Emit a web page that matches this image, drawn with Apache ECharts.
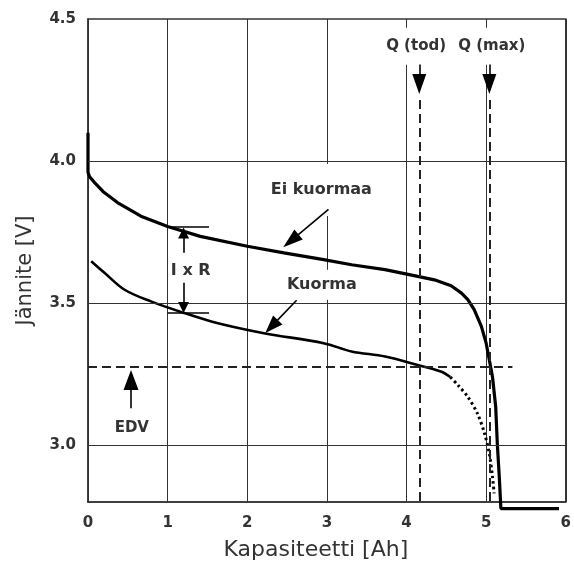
<!DOCTYPE html>
<html>
<head>
<meta charset="utf-8">
<script src="https://cdn.jsdelivr.net/npm/echarts@6/dist/echarts.min.js"></script>
<style>
  html, body { margin: 0; padding: 0; background: #fff; }
  #chart { width: 574px; height: 577px; }
</style>
</head>
<body>
<div id="chart"></div>
<script>
// purkauskäyrät, luettu kuvasta: kapasiteetti [Ah] / jännite [V]
var noLoadCap  = [0, 0, 0.02, 0.08, 0.2, 0.37, 0.665, 1.0, 1.41, 2.0, 2.46, 2.96, 3.31, 3.73, 4.14, 4.35, 4.56, 4.69, 4.77, 4.85, 4.94, 5.0, 5.04, 5.08, 5.12, 5.14, 5.165, 5.185, 5.915];
var noLoadVolt = [4.10, 3.96, 3.945, 3.925, 3.89, 3.854, 3.806, 3.77, 3.735, 3.70, 3.677, 3.653, 3.635, 3.618, 3.594, 3.582, 3.561, 3.535, 3.512, 3.477, 3.418, 3.359, 3.30, 3.24, 3.135, 3.006, 2.888, 2.777, 2.777];

var loadCap  = [0.04, 0.21, 0.46, 0.79, 1.21, 1.62, 2.21, 2.96, 3.31, 3.73, 4.14, 4.43, 4.55];
var loadVolt = [3.647, 3.606, 3.547, 3.506, 3.465, 3.43, 3.394, 3.359, 3.33, 3.312, 3.282, 3.259, 3.24];
// pisteviivalla piirretty loppuosa
var loadTailCap  = [4.55, 4.65, 4.77, 4.89, 4.98, 5.04, 5.08, 5.10];
var loadTailVolt = [3.24, 3.21, 3.17, 3.112, 3.041, 2.97, 2.888, 2.83];

var voltTicks = [3.0, 3.5, 4.0, 4.5];
var gridVolts = [3.0, 3.5, 4.0];

var edvVolt = 3.276;
var edvEndCap = 5.33;
var qTodCap = 4.16;
var qMaxCap = 5.04;

// tekstit
var labelNames = ['Ei kuormaa', 'Kuorma', 'I x R', 'EDV', 'Q (tod)', 'Q (max)'];
var labelCap   = [2.93, 3.0, 1.29, 0.55, 4.12, 5.07];
var labelVolt  = [3.898, 3.565, 3.612, 3.059, 4.404, 4.404];

// nuolet: alku -> kärjen keskikohta
var arrowFrom = [[3.02, 3.83], [2.62, 3.51], [1.2, 3.677], [1.2, 3.572], [0.54, 3.13], [4.16, 4.34], [5.04, 4.34]];
var arrowTo   = [[2.548, 3.719], [2.305, 3.418], [1.2, 3.747], [1.2, 3.485], [0.54, 3.229], [4.16, 4.271], [5.04, 4.271]];

function pairs(xs, ys) {
  var out = [];
  for (var i = 0; i < xs.length; i++) out.push([xs[i], ys[i]]);
  return out;
}

var chart = echarts.init(document.getElementById('chart'));

var txt = '#333';
var arrowSizes = [[13, 20], [13, 18], [11, 11], [11, 11], [15, 20], [14, 20], [14, 20]];
var labelPads = [[18, 6, 18, 6], [4, 14, 10, 4], [4, 2, 4, 2], [2, 2, 2, 2], [11, 4, 11, 4], [11, 4, 11, 4]];
var labelSizes = [16, 16, 16, 15, 15, 15];

var arrowLines = [];
for (var i = 0; i < arrowFrom.length; i++) {
  arrowLines.push([
    { coord: arrowFrom[i], symbol: 'none' },
    { coord: arrowTo[i], symbol: 'triangle', symbolSize: arrowSizes[i] }
  ]);
}

var labelData = [];
for (var j = 0; j < labelNames.length; j++) {
  labelData.push({
    name: labelNames[j],
    value: [labelCap[j], labelVolt[j]],
    label: { padding: labelPads[j], fontSize: labelSizes[j] }
  });
}

option = {
  animation: false,
  grid: {
    left: 88, right: 5, top: 19, bottom: 75,
    show: true, borderColor: '#333', borderWidth: 1.5
  },
  xAxis: {
    type: 'value',
    min: 0, max: 6, interval: 1,
    axisLine: { lineStyle: { color: '#333', width: 1.5 } },
    axisTick: { show: false },
    axisLabel: { margin: 14, color: txt, fontFamily: 'DejaVu Sans', fontWeight: 'bold', fontSize: 15 },
    splitLine: { show: true, lineStyle: { color: '#333', width: 1 } },
    name: 'Kapasiteetti [Ah]',
    nameLocation: 'middle',
    nameGap: 37,
    nameTextStyle: { color: txt, fontFamily: 'DejaVu Sans', fontSize: 22, padding: [0, 22, 0, 0] }
  },
  yAxis: {
    type: 'value',
    min: 2.8, max: 4.5,
    axisLine: { show: true, lineStyle: { color: '#333', width: 1.5 } },
    axisTick: { show: false },
    axisLabel: {
      customValues: voltTicks,
      margin: 12, color: txt, fontFamily: 'DejaVu Sans', fontWeight: 'bold', fontSize: 15,
      formatter: function (v) { return v.toFixed(1); }
    },
    splitLine: { show: false },
    name: 'Jännite [V]',
    nameLocation: 'middle',
    nameGap: 52,
    nameTextStyle: { color: txt, fontFamily: 'DejaVu Sans', fontSize: 21, padding: [0, 20, 0, 0] }
  },
  series: [
    {
      // vaakasuorat apuviivat + EDV ja Q-viivat
      name: 'apu',
      type: 'line',
      data: [],
      z: 1,
      markLine: {
        silent: true,
        symbol: 'none',
        label: { show: false },
        data: gridVolts.map(function (v) {
          return { yAxis: v, lineStyle: { color: '#333', width: 1, type: 'solid' } };
        }).concat([
          [{ coord: [0, edvVolt] }, { coord: [edvEndCap, edvVolt] }],
          [{ coord: [qTodCap, 4.215] }, { coord: [qTodCap, 2.8] }],
          [{ coord: [qMaxCap, 4.215] }, { coord: [qMaxCap, 2.8] }]
        ]),
        lineStyle: { color: '#222', width: 2, type: [9, 5] }
      }
    },
    {
      name: 'tekstit',
      type: 'scatter',
      symbolSize: 0,
      z: 2,
      itemStyle: { opacity: 1 },
      data: labelData,
      label: {
        show: true,
        position: 'inside',
        formatter: '{b}',
        color: txt,
        opacity: 1,
        fontFamily: 'DejaVu Sans',
        fontWeight: 'bold',
        backgroundColor: '#fff'
      }
    },
    {
      name: 'Ei kuormaa',
      type: 'line',
      data: pairs(noLoadCap, noLoadVolt),
      showSymbol: false,
      clip: false,
      z: 3,
      lineStyle: { color: '#000', width: 3.2 }
    },
    {
      name: 'Kuorma',
      type: 'line',
      data: pairs(loadCap, loadVolt),
      showSymbol: false,
      smooth: 0.35,
      z: 3,
      lineStyle: { color: '#000', width: 2.6 }
    },
    {
      name: 'Kuorma loppu',
      type: 'line',
      data: pairs(loadTailCap, loadTailVolt),
      showSymbol: false,
      smooth: 0.3,
      z: 3,
      lineStyle: { color: '#000', width: 3, type: [2.5, 3] }
    },
    {
      name: 'nuolet',
      type: 'line',
      data: [],
      z: 5,
      markLine: {
        silent: true,
        label: { show: false },
        lineStyle: { color: '#000', width: 1.6, type: 'solid' },
        data: arrowLines.concat([
          [{ coord: [1.0, 3.77], symbol: 'none' }, { coord: [1.52, 3.77], symbol: 'none' }],
          [{ coord: [1.0, 3.465], symbol: 'none' }, { coord: [1.52, 3.465], symbol: 'none' }]
        ])
      }
    }
  ]
};

chart.setOption(option);
</script>
</body>
</html>
